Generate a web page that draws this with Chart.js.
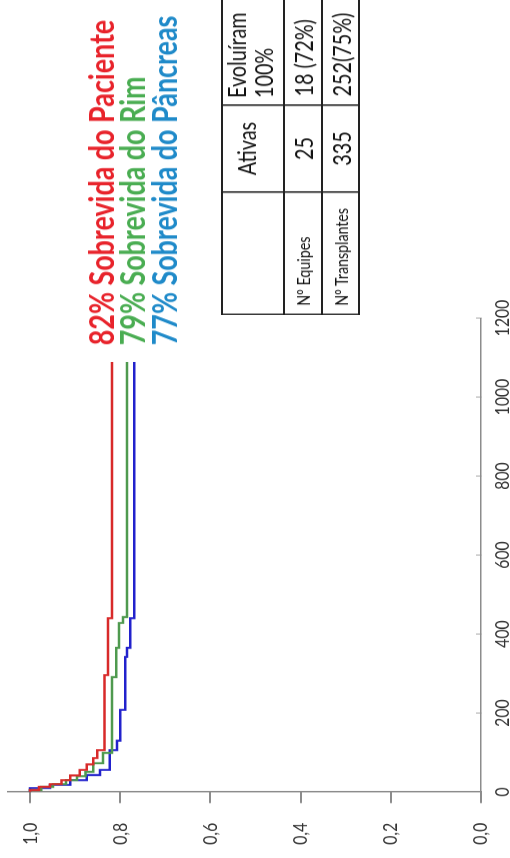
<!DOCTYPE html>
<html>
<head>
<meta charset="utf-8">
<script src="https://cdn.jsdelivr.net/npm/chart.js"></script>
<style>
  html, body { margin: 0; padding: 0; background: #fff; overflow: hidden; }
  /* o gráfico original está girado 90° e um pouco achatado */
  #rot {
    position: absolute; left: 0; top: 0;
    width: 1086px; height: 510px;
    transform-origin: 0 0;
    transform: translate(0, 858px) rotate(-90deg) scale(0.79, 1);
    font-family: Lato, "Open Sans", sans-serif;
  }
  #wrap { position: absolute; left: 0; top: 0; width: 1086px; height: 510px; }
  .leg { position: absolute; left: 649px; font-weight: bold; font-size: 34px; line-height: 34px; white-space: nowrap; }
  #tab { position: absolute; left: 687px; top: 221px; width: 425px; border-collapse: collapse; table-layout: fixed; color: #111; }
  #tab td { border: 2px solid #222; padding: 0; font-size: 25px; white-space: nowrap; overflow: hidden; }
  #tab td.lab { font-size: 18px; padding-left: 10px; vertical-align: middle; }
  #tab td.num { text-align: center; vertical-align: middle; }
  #tab td.pct { padding-left: 10px; vertical-align: middle; }
</style>
</head>
<body>
<div id="rot">
  <div id="wrap"><canvas id="myChart"></canvas></div>
  <div class="leg" style="top:84px;color:#e8232b">82% Sobrevida do Paciente</div>
  <div class="leg" style="top:115px;color:#4aad52">79% Sobrevida do Rim</div>
  <div class="leg" style="top:147px;color:#1f8ac9">77% Sobrevida do Pâncreas</div>
  <table id="tab">
    <colgroup><col style="width:155px"><col style="width:110px"><col style="width:160px"></colgroup>
    <tr style="height:62px">
      <td></td>
      <td style="text-align:center;vertical-align:top;padding-top:8px">Ativas</td>
      <td style="vertical-align:top;padding-left:8px;line-height:27px">Evoluíram<br>100%</td>
    </tr>
    <tr style="height:38px">
      <td class="lab">Nº Equipes</td>
      <td class="num">25</td>
      <td class="pct">18 (72%)</td>
    </tr>
    <tr style="height:37px">
      <td class="lab">Nº Transplantes</td>
      <td class="num">335</td>
      <td class="pct">252(75%)</td>
    </tr>
  </table>
</div>
<script>
// dias e sobrevida
const pacienteDias = [0, 5, 13, 20, 30, 42, 56, 70, 86, 106, 296, 440, 1089];
const pacienteSobrev = [1.0, 0.98, 0.956, 0.93, 0.911, 0.89, 0.874, 0.86, 0.851, 0.835, 0.827, 0.818, 0.818];
const rimDias = [0, 5, 13, 20, 30, 40, 51, 73, 99, 291, 365, 428, 443, 1089];
const rimSobrev = [1.0, 0.975, 0.949, 0.92, 0.896, 0.877, 0.86, 0.838, 0.818, 0.809, 0.803, 0.794, 0.785, 0.785];
const pancreasDias = [0, 10, 18, 30, 43, 56, 106, 130, 208, 342, 365, 440, 1089];
const pancreasSobrev = [1.0, 0.956, 0.911, 0.874, 0.845, 0.823, 0.807, 0.80, 0.789, 0.785, 0.778, 0.769, 0.769];
const diasTicks = [0, 200, 400, 600, 800, 1000, 1200];

function pontos(dias, sobrev) {
  return dias.map(function (d, i) { return { x: d, y: sobrev[i] }; });
}

function serie(dias, sobrev, cor) {
  return {
    data: pontos(dias, sobrev),
    borderColor: cor,
    backgroundColor: cor,
    borderWidth: 2.5,
    pointRadius: 0,
    showLine: true,
    stepped: true,
    fill: false
  };
}

const chart_data = {
  datasets: [
    serie(pacienteDias, pacienteSobrev, '#d82a2a'),
    serie(rimDias, rimSobrev, '#4f9a4f'),
    serie(pancreasDias, pancreasSobrev, '#2222cc')
  ]
};

const chart_config = {
  type: 'scatter',
  data: chart_data,
  options: {
    responsive: true,
    maintainAspectRatio: false,
    animation: false,
    layout: { padding: { top: 7.5, right: 1086 - 683.5, left: 0, bottom: 0 } },
    plugins: { legend: { display: false }, tooltip: { enabled: false } },
    scales: {
      x: {
        type: 'linear',
        min: 0,
        max: 1200,
        afterBuildTicks: function (scale) {
          scale.ticks = diasTicks.map(function (v) { return { value: v }; });
        },
        afterFit: function (scale) {
          scale.height = 29;
          scale.paddingLeft = 0; scale.paddingRight = 0;
        },
        border: { color: '#8c8c8c', width: 1.5 },
        grid: { drawOnChartArea: false, tickLength: -5, color: '#8c8c8c', lineWidth: 1 },
        ticks: {
          color: '#333', padding: 15, maxRotation: 0, autoSkip: false,
          font: { family: 'Lato', size: 20 },
          callback: function (v) { return String(v); }
        }
      },
      y: {
        min: 0,
        max: 1.05,
        afterFit: function (scale) {
          scale.width = 83.5;
          scale.paddingTop = 0; scale.paddingBottom = 0;
        },
        border: { color: '#8c8c8c', width: 2 },
        grid: { drawOnChartArea: false, tickLength: 14, color: '#8c8c8c', lineWidth: 2 },
        ticks: {
          stepSize: 0.2,
          includeBounds: false,
          color: '#333',
          padding: 25,
          font: { family: 'Lato', size: 20 },
          callback: function (v) { return v.toFixed(1).replace('.', ','); }
        }
      }
    }
  }
};

document.addEventListener("DOMContentLoaded", function () {
  const myChart = new Chart(document.getElementById('myChart'), chart_config);
});
</script>
</body>
</html>
